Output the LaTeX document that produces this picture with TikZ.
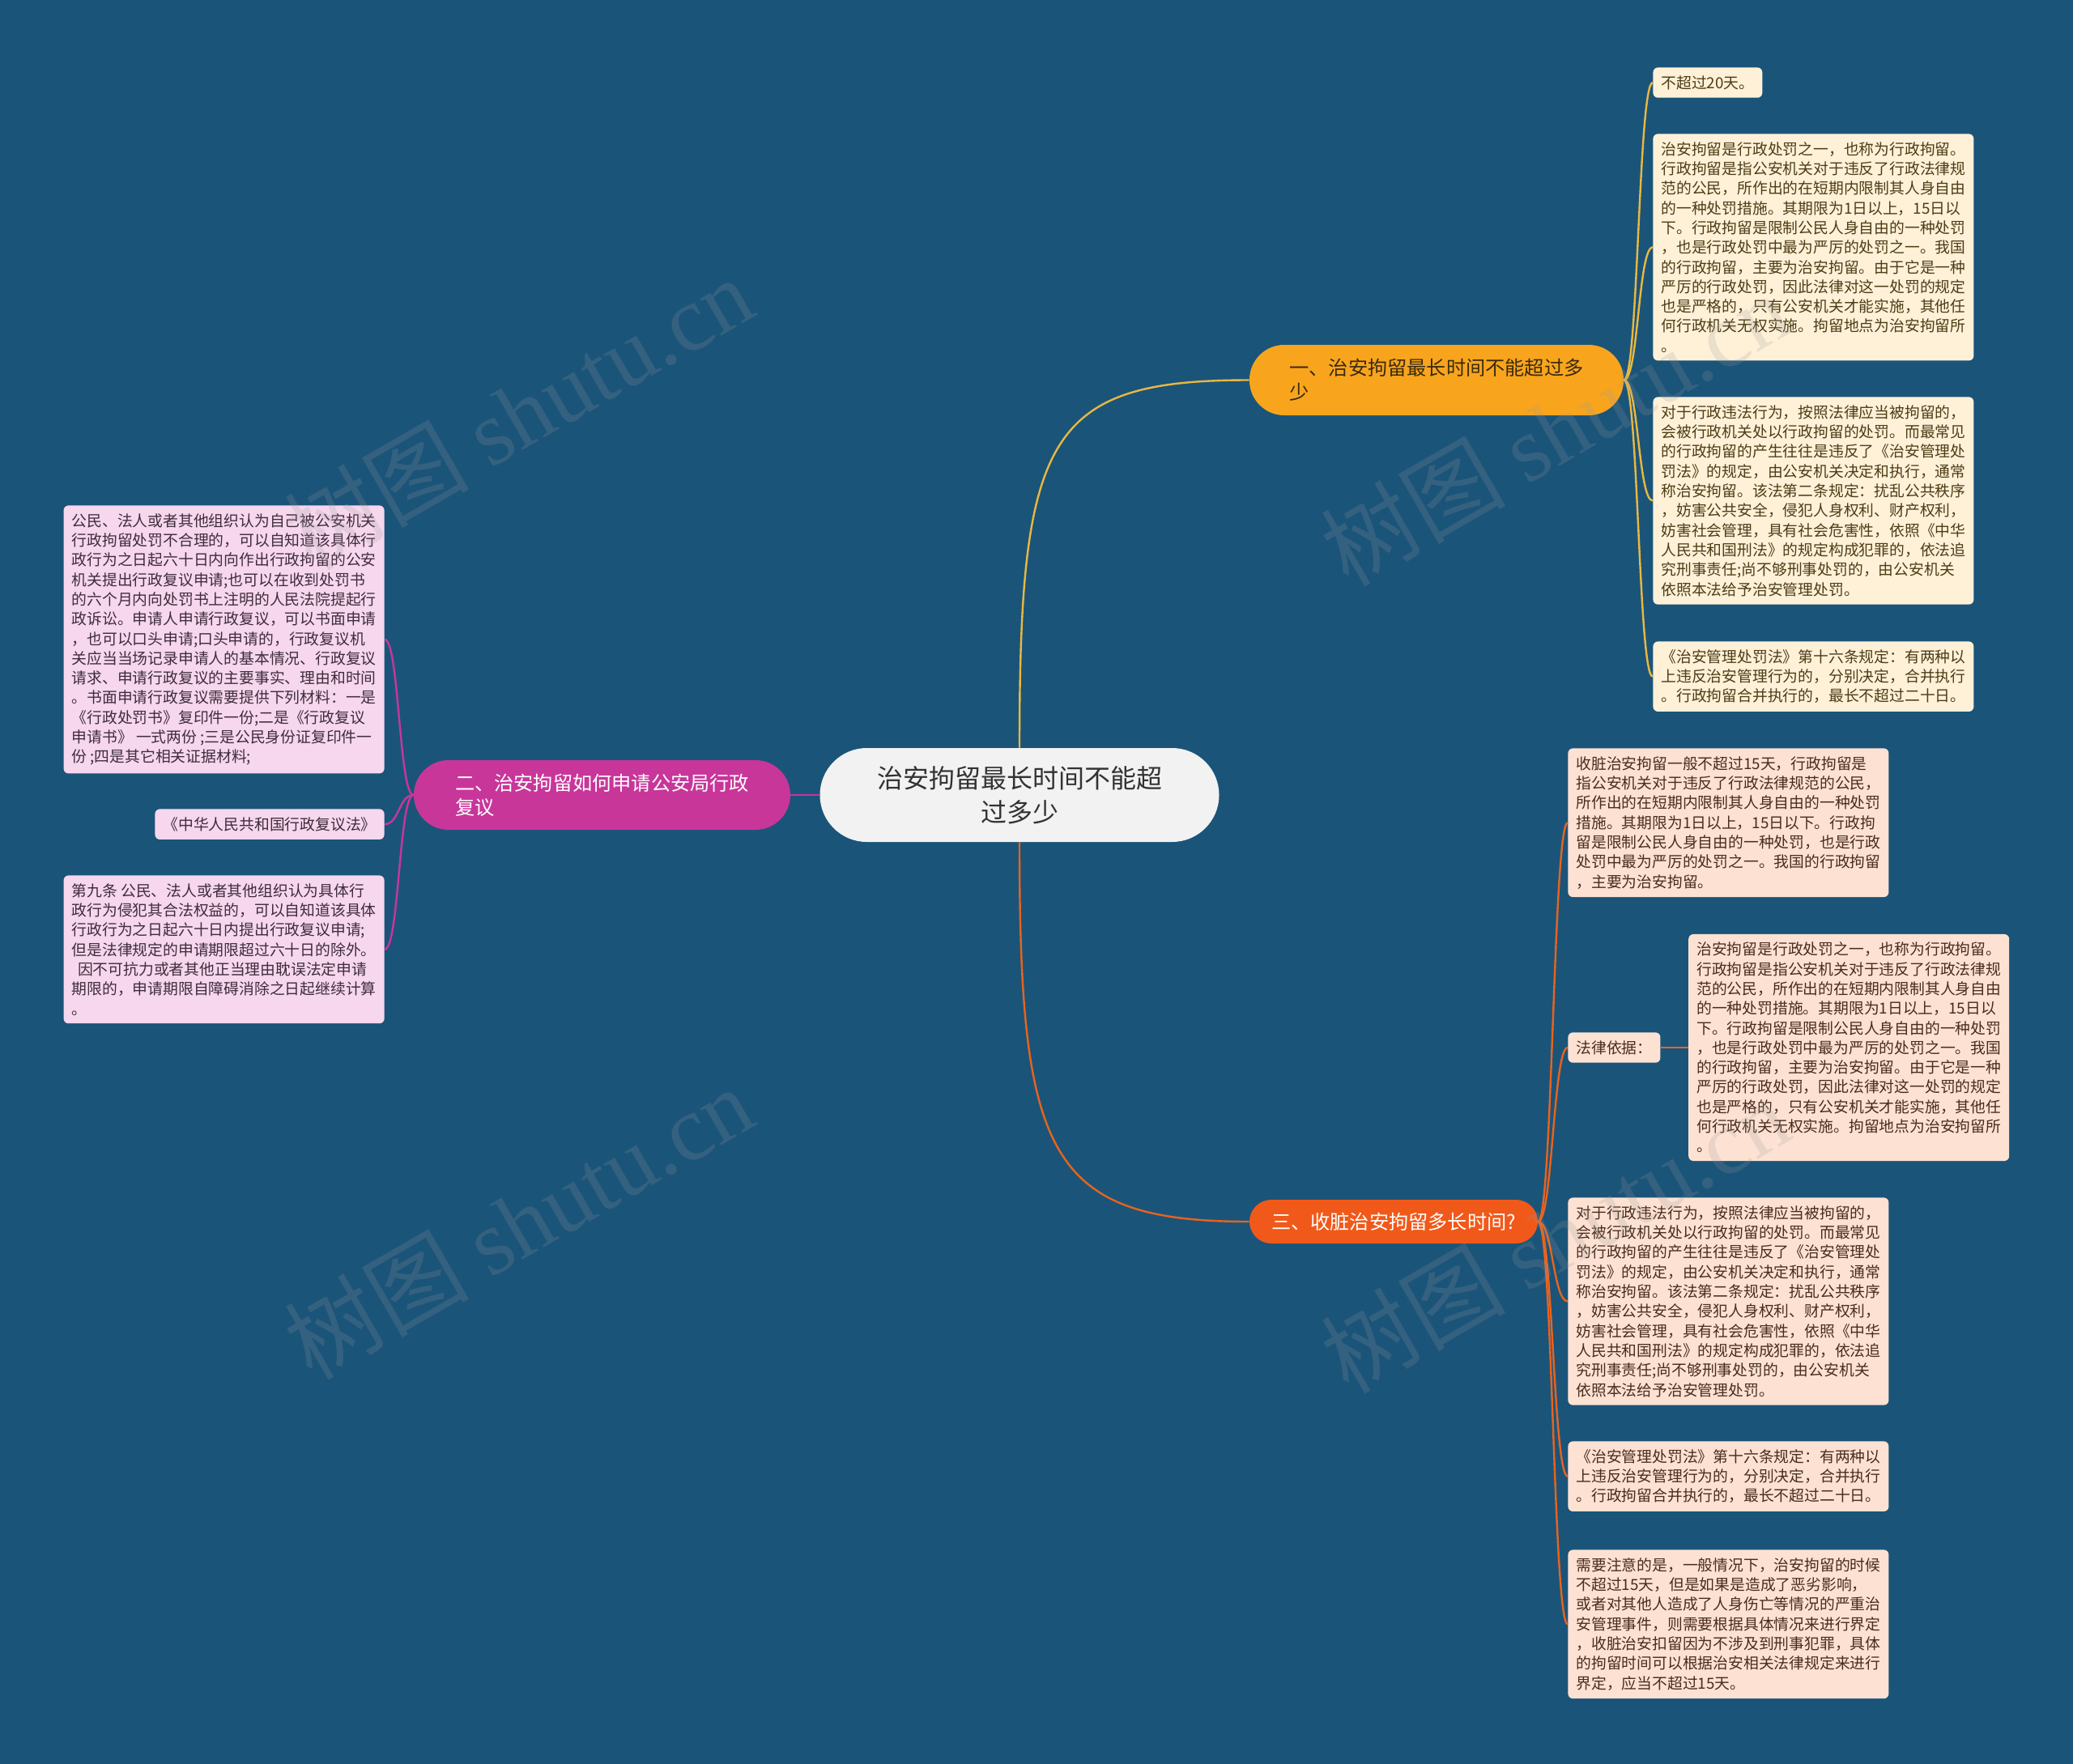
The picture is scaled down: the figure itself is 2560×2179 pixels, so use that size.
\documentclass[tikz,border=0pt]{standalone}
\usepackage{fontspec}
\setmainfont{Noto Sans CJK SC}
\newfontfamily\wmlatin{Liberation Serif}
\usetikzlibrary{positioning}

\definecolor{bgblue}{HTML}{1B5479}
\definecolor{rootgrey}{HTML}{F2F2F2}
\definecolor{rootink}{HTML}{333333}
\definecolor{amber}{HTML}{F8A51D}
\definecolor{amberink}{HTML}{3A2A0E}
\definecolor{gold}{HTML}{E9B841}
\definecolor{cream}{HTML}{FEF1D8}
\definecolor{creamink}{HTML}{4E3C16}
\definecolor{magenta}{HTML}{C8369A}
\definecolor{pink}{HTML}{F6D7EE}
\definecolor{pinkink}{HTML}{3F2C3A}
\definecolor{flame}{HTML}{F1591A}
\definecolor{flameline}{HTML}{E8631E}
\definecolor{peach}{HTML}{FDE2D3}
\definecolor{peachink}{HTML}{4A2C1E}

% texts used twice
\newcommand{\detaintext}{治安拘留是行政处罚之一，也称为行政拘留。\\
行政拘留是指公安机关对于违反了行政法律规\\
范的公民，所作出的在短期内限制其人身自由\\
的一种处罚措施。其期限为1日以上，15日以\\
下。行政拘留是限制公民人身自由的一种处罚\\
，也是行政处罚中最为严厉的处罚之一。我国\\
的行政拘留，主要为治安拘留。由于它是一种\\
严厉的行政处罚，因此法律对这一处罚的规定\\
也是严格的，只有公安机关才能实施，其他任\\
何行政机关无权实施。拘留地点为治安拘留所\\
。}
\newcommand{\lawtext}{对于行政违法行为，按照法律应当被拘留的，\\
会被行政机关处以行政拘留的处罚。而最常见\\
的行政拘留的产生往往是违反了《治安管理处\\
罚法》的规定，由公安机关决定和执行，通常\\
称治安拘留。该法第二条规定：扰乱公共秩序\\
，妨害公共安全，侵犯人身权利、财产权利，\\
妨害社会管理，具有社会危害性，依照《中华\\
人民共和国刑法》的规定构成犯罪的，依法追\\
究刑事责任;尚不够刑事处罚的，由公安机关\\
依照本法给予治安管理处罚。}
\newcommand{\mergetext}{《治安管理处罚法》第十六条规定：有两种以\\
上违反治安管理行为的，分别决定，合并执行\\
。行政拘留合并执行的，最长不超过二十日。}

\begin{document}
\begin{tikzpicture}[x=0.5pt, y=-0.5pt,
    topic/.style={rectangle, rounded corners=29pt, fill=rootgrey, text=rootink, align=center, minimum width=246.5pt, minimum height=58pt, font=\fontsize{16}{21}\selectfont},
    branch/.style={rectangle, align=left, inner sep=0pt, font=\fontsize{12.1}{15}\selectfont},
    branch one/.style={branch, fill=amber, text=amberink, rounded corners=21.5pt, minimum width=231pt, minimum height=43.5pt},
    branch two/.style={branch, fill=magenta, text=white, rounded corners=21.5pt, minimum width=232.5pt, minimum height=43pt},
    branch three/.style={branch, fill=flame, text=white, rounded corners=13.5pt, minimum width=178pt, minimum height=27pt},
    leaf/.style={rectangle, rounded corners=3pt, align=left, inner sep=5pt, font=\fontsize{9.4}{12.15}\selectfont},
    leaf one/.style={leaf, fill=cream, text=creamink},
    leaf two/.style={leaf, fill=pink, text=pinkink},
    leaf three/.style={leaf, fill=peach, text=peachink},
    link/.style={line width=1.2pt},
    link one/.style={link, draw=gold},
    link two/.style={link, draw=magenta},
    link three/.style={link, draw=flameline},
    watermark/.style={rotate=30, text=black!40, opacity=0.2, font=\fontsize{57}{57}\selectfont}
  ]
    \useasboundingbox (0,0) rectangle (2560,2179);
    \fill[bgblue] (0,0) rectangle (2560,2179);

    % centre and main topics
    \node[topic] (root) at (1259,982) {治安拘留最长时间不能超\\过多少};
    \node[branch one] (b1) at (1774,469.5) {一、治安拘留最长时间不能超过多\\少};
    \node[branch two] (b2) at (743.5,982) {二、治安拘留如何申请公安局行政\\复议};
    \node[branch three] (b3) at (1721,1509) {三、收脏治安拘留多长时间?};

    % topic one
    \node[leaf one, anchor=north west] (l1a) at (2041,83) {不超过20天。};
    \node[leaf one, anchor=north west] (l1b) at (2041,165) {\detaintext};
    \node[leaf one, anchor=north west] (l1c) at (2041,490) {\lawtext};
    \node[leaf one, anchor=north west] (l1d) at (2041,792) {\mergetext};

    % topic two
    \node[leaf two, anchor=north east] (l2a) at (475,624) {公民、法人或者其他组织认为自己被公安机关\\
行政拘留处罚不合理的，可以自知道该具体行\\
政行为之日起六十日内向作出行政拘留的公安\\
机关提出行政复议申请;也可以在收到处罚书\\
的六个月内向处罚书上注明的人民法院提起行\\
政诉讼。申请人申请行政复议，可以书面申请\\
，也可以口头申请;口头申请的，行政复议机\\
关应当当场记录申请人的基本情况、行政复议\\
请求、申请行政复议的主要事实、理由和时间\\
。书面申请行政复议需要提供下列材料：一是\\
《行政处罚书》复印件一份;二是《行政复议\\
申请书》 一式两份 ;三是公民身份证复印件一\\
份 ;四是其它相关证据材料;};
    \node[leaf two, anchor=north east] (l2b) at (475,999) {《中华人民共和国行政复议法》};
    \node[leaf two, anchor=north east] (l2c) at (475,1081) {第九条 公民、法人或者其他组织认为具体行\\
政行为侵犯其合法权益的，可以自知道该具体\\
行政行为之日起六十日内提出行政复议申请;\\
但是法律规定的申请期限超过六十日的除外。\\
\hspace*{0.4em}因不可抗力或者其他正当理由耽误法定申请\\
期限的，申请期限自障碍消除之日起继续计算\\
。};

    % topic three
    \node[leaf three, anchor=north west] (l3a) at (1936,924) {收脏治安拘留一般不超过15天，行政拘留是\\
指公安机关对于违反了行政法律规范的公民，\\
所作出的在短期内限制其人身自由的一种处罚\\
措施。其期限为1日以上，15日以下。行政拘\\
留是限制公民人身自由的一种处罚，也是行政\\
处罚中最为严厉的处罚之一。我国的行政拘留\\
，主要为治安拘留。};
    \node[leaf three, anchor=west] (l3b) at (1936,1294) {法律依据：};
    \node[leaf three, right=17pt of l3b] (l3b1) {\detaintext};
    \node[leaf three, anchor=north west] (l3c) at (1936,1479) {\lawtext};
    \node[leaf three, anchor=north west] (l3d) at (1936,1780) {\mergetext};
    \node[leaf three, anchor=north west] (l3e) at (1936,1914) {需要注意的是，一般情况下，治安拘留的时候\\
不超过15天，但是如果是造成了恶劣影响，\\
或者对其他人造成了人身伤亡等情况的严重治\\
安管理事件，则需要根据具体情况来进行界定\\
，收脏治安扣留因为不涉及到刑事犯罪，具体\\
的拘留时间可以根据治安相关法律规定来进行\\
界定，应当不超过15天。};

    % connectors
    \draw[link one] (root.north) .. controls +(0,-385) and +(-250,0) .. (b1.west);
    \draw[link two] (root.west) -- (b2.east);
    \draw[link three] (root.south) .. controls +(0,385) and +(-250,0) .. (b3.west);

    \draw[link one] (b1.east) .. controls +(18,0) and +(-18,0) .. (l1a.west);
    \draw[link one] (b1.east) .. controls +(18,0) and +(-18,0) .. (l1b.west);
    \draw[link one] (b1.east) .. controls +(18,0) and +(-18,0) .. (l1c.west);
    \draw[link one] (b1.east) .. controls +(18,0) and +(-18,0) .. (l1d.west);

    \draw[link two] (b2.west) .. controls +(-18,0) and +(18,0) .. (l2a.east);
    \draw[link two] (b2.west) .. controls +(-18,0) and +(18,0) .. (l2b.east);
    \draw[link two] (b2.west) .. controls +(-18,0) and +(18,0) .. (l2c.east);

    \draw[link three] (b3.east) .. controls +(18,0) and +(-18,0) .. (l3a.west);
    \draw[link three] (b3.east) .. controls +(18,0) and +(-18,0) .. (l3b.west);
    \draw[link three] (b3.east) .. controls +(18,0) and +(-18,0) .. (l3c.west);
    \draw[link three] (b3.east) .. controls +(18,0) and +(-18,0) .. (l3d.west);
    \draw[link three] (b3.east) .. controls +(18,0) and +(-18,0) .. (l3e.west);
    \draw[link three] (l3b.east) .. controls +(18,0) and +(-18,0) .. (l3b1.west);

    % watermarks
    \node[watermark] (wm1) at (640,510) {树图 {\wmlatin shutu.cn}};
    \node[watermark] (wm2) at (1920,530) {树图 {\wmlatin shutu.cn}};
    \node[watermark] (wm3) at (640,1510) {树图 {\wmlatin shutu.cn}};
    \node[watermark] (wm4) at (1920,1527) {树图 {\wmlatin shutu.cn}};
  \end{tikzpicture}
\end{document}
